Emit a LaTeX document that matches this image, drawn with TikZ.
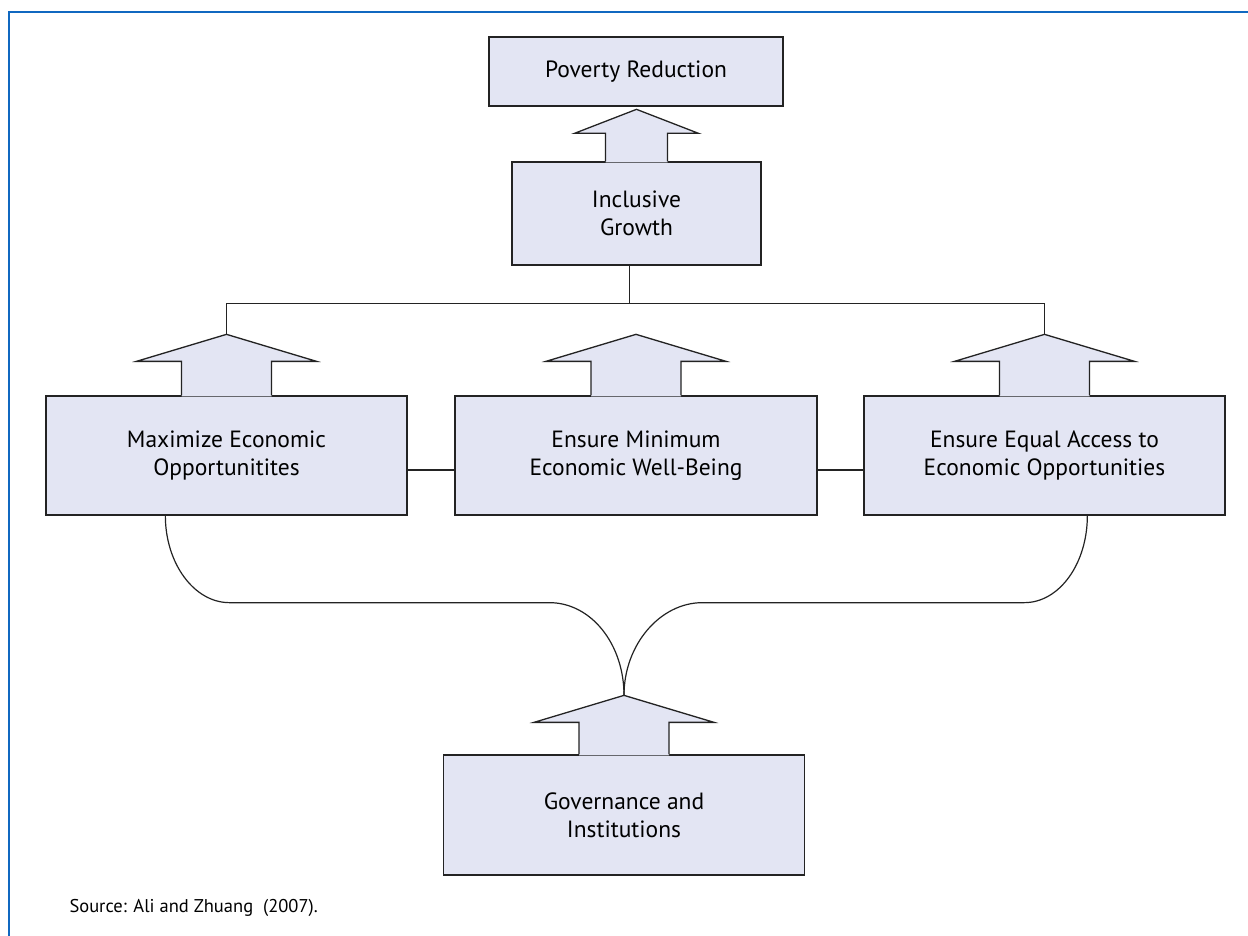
\documentclass[tikz,border=0pt]{standalone}
\usepackage{fontspec}
\setmainfont{PT Sans}
\usetikzlibrary{calc}

\definecolor{boxfill}{RGB}{227,229,243}
\definecolor{lineclr}{RGB}{35,35,35}
\definecolor{frameblue}{RGB}{16,104,192}

\begin{document}
\begin{tikzpicture}[x=1pt, y=-1pt, font=\fontsize{23.5}{28}\selectfont,
  box/.style={draw=lineclr, fill=boxfill, line width=1.3pt, align=center, inner sep=0pt},
  arr/.style={draw=lineclr, line width=1.3pt},
  conn/.style={draw=lineclr, line width=1.2pt}]

\useasboundingbox (0,0) rectangle (1248,936);

% ---- frame ---------------------------------------------------------------
\draw[frameblue, line width=2.2pt] (9,936) -- (9,12) -- (1248,12);

% ---- boxes ---------------------------------------------------------------
\node[box, minimum width=294, minimum height=69] (pov) at (636,71.5) {Poverty Reduction};
\node[box, minimum width=249, minimum height=103] (incl) at (636.5,213.5) {Inclusive\\Growth};

\node[box, minimum width=361, minimum height=119] (maxi) at (226.5,455.5) {Maximize Economic\\Opportunitites};
\node[box, minimum width=362, minimum height=119] (minw) at (636,455.5) {Ensure Minimum\\Economic Well-Being};
\node[box, minimum width=361, minimum height=119] (eqacc) at (1044.5,455.5) {Ensure Equal Access to\\Economic Opportunities};

\node[box, minimum width=361, minimum height=120] (gov) at (624,815) {Governance and\\Institutions};

% ---- block arrows on top of the boxes -------------------------------------
\foreach \nm/\sw/\ww/\shh/\hh in {incl/31/62/28/24, maxi/45/90/34/27, minw/45/90/34/27, eqacc/45/90/34/27, gov/45/90/32/27} {
  \fill[boxfill] (\nm.north) ++(-\sw,1) -- ++(0,-\shh-1) -- ++(\sw-\ww,0) -- ++(\ww,-\hh)
    -- ++(\ww,\hh) -- ++(\sw-\ww,0) -- ++(0,\shh+1) -- cycle;
  \draw[arr] (\nm.north) ++(-\sw,0) -- ++(0,-\shh) -- ++(\sw-\ww,0) -- ++(\ww,-\hh)
    -- ++(\ww,\hh) -- ++(\sw-\ww,0) -- ++(0,\shh);
  \coordinate (\nm-tip) at ($(\nm.north)+(0,{-\shh-\hh})$);
}

% ---- connectors ----------------------------------------------------------
\draw[conn] ([xshift=-7pt]incl.south) -- ++(0,38) coordinate (jn);
\draw[conn] (maxi-tip) |- (jn) -| (eqacc-tip);

\draw[conn] ([yshift=-14.5pt]maxi.east) -- ([yshift=-14.5pt]minw.west);
\draw[conn] ([yshift=-14.5pt]minw.east) -- ([yshift=-14.5pt]eqacc.west);

\draw[conn] ($(maxi.south west)+(120,0)$) .. controls +(0,48) and +(-35,0) .. ++(64,87)
  -- ++(320,0) .. controls +(42,0) and +(0,-51) .. (gov-tip);
\draw[conn] ($(eqacc.south west)+(224,0)$) .. controls +(0,48) and +(35,0) .. ++(-63,87)
  -- ++(-322,0) .. controls +(-42,0) and +(0,-51) .. (gov-tip);

% ---- source --------------------------------------------------------------
\node[anchor=base west, font=\fontsize{18.5}{22}\selectfont] (src) at (66,912)
  {Source: Ali and Zhuang\ \ (2007).};

\end{tikzpicture}
\end{document}
